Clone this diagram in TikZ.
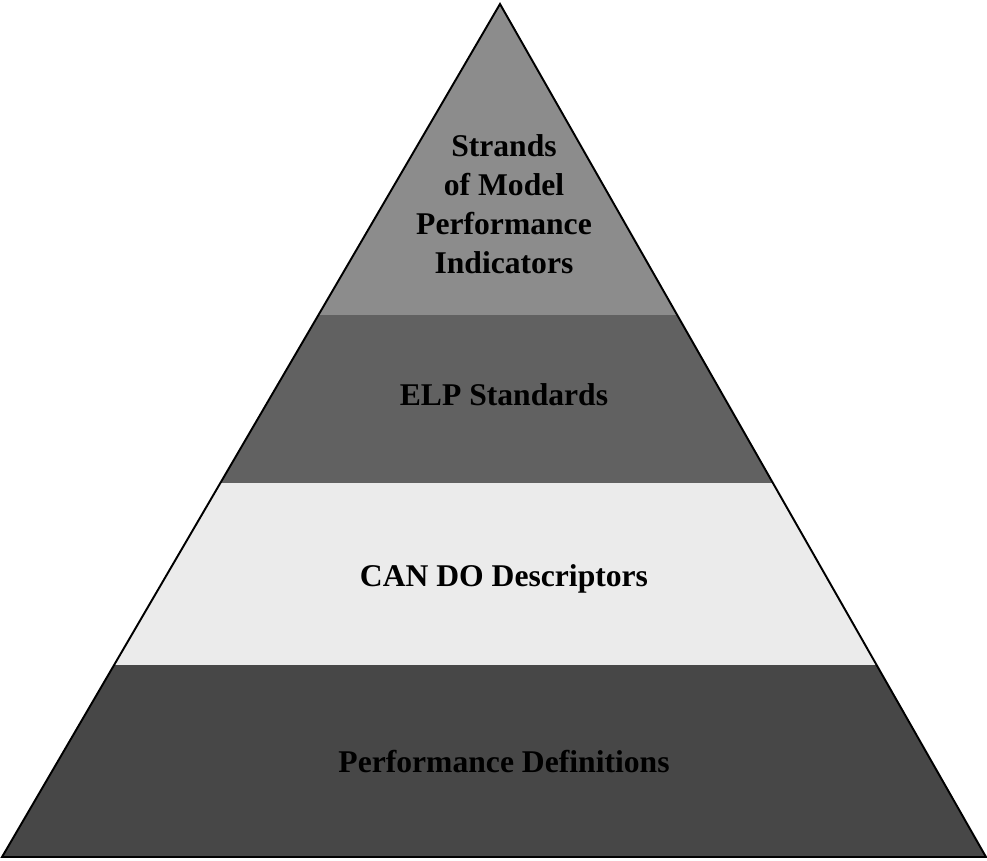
\documentclass[tikz,border=0pt]{standalone}
\usepackage{fontspec}
\setmainfont{Liberation Serif}
\begin{document}
\begin{tikzpicture}[x=0.02cm,y=-0.02cm,font=\fontsize{18}{22.2}\selectfont\bfseries]
\tikzstyle{lbl}=[align=center,inner sep=1pt,text=black]
\tikzstyle{edge}=[line width=1.1pt,line join=miter]
\useasboundingbox (0,0) rectangle (987,860);
\coordinate (apex) at (500,4);
\coordinate (bl) at (2,857);
\coordinate (br) at (986,857);
% bands of the pyramid, top to bottom
\begin{scope}
\clip (apex) -- (bl) -- (br) -- cycle;
\foreach \ya/\yb/\g in {0/315/45,315/483/62,483/665/8,665/860/72} \fill[black!\g] (0,\ya) rectangle (987,\yb);
\end{scope}
\draw[edge] (apex) -- (bl) -- (br) -- cycle;
\node[lbl] (strands) at (504,204) {Strands\\of Model\\Performance\\Indicators};
\node[lbl] (elp) at (504,395) {ELP Standards};
\node[lbl] (cando) at (504,579) {CAN DO Descriptors};
\node[lbl] (perfdef) at (504,762) {Performance Definitions};
\end{tikzpicture}
\end{document}
